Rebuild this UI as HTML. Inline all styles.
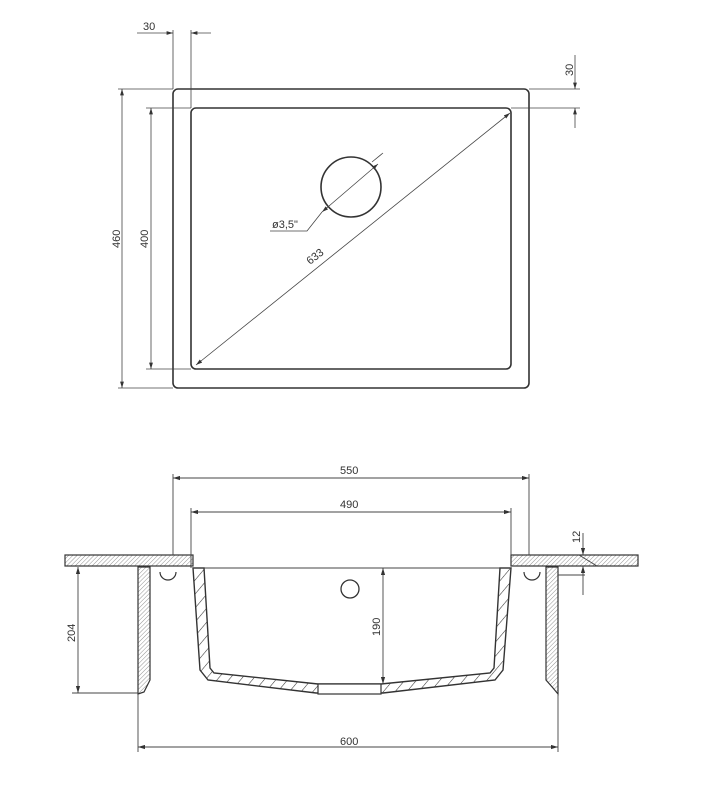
<!DOCTYPE html>
<html><head><meta charset="utf-8"><style>body{margin:0;background:#fff}svg{display:block}text{font-family:"Liberation Sans",sans-serif;font-size:11px;fill:#333}</style></head><body>
<svg width="701" height="812" viewBox="0 0 701 812" xmlns="http://www.w3.org/2000/svg">
<defs>
<pattern id="h" patternUnits="userSpaceOnUse" width="3" height="3" patternTransform="rotate(45)"><line x1="0" y1="0" x2="0" y2="3" stroke="#777" stroke-width="0.8"/></pattern>
<pattern id="s" patternUnits="userSpaceOnUse" width="9" height="9" patternTransform="rotate(40)"><line x1="0" y1="0" x2="0" y2="9" stroke="#333" stroke-width="1.1"/></pattern>
<marker id="a" viewBox="0 0 10 6" refX="10" refY="3" markerWidth="8" markerHeight="5" orient="auto-start-reverse"><path d="M0,0L10,3L0,6z" fill="#333"/></marker>
</defs>
<g fill="none" stroke="#333" stroke-width="1.6">
<rect x="173" y="89" width="356" height="299" rx="5"/>
<rect x="191" y="108" width="320" height="261" rx="5"/>
<circle cx="351" cy="187" r="30"/>
</g>
<g stroke="#444" stroke-width="0.8" fill="none">
<line x1="173" y1="30" x2="173" y2="89"/><line x1="191" y1="30" x2="191" y2="108"/>
<line x1="137" y1="33" x2="173" y2="33" marker-end="url(#a)"/><line x1="211" y1="33" x2="191" y2="33" marker-end="url(#a)"/>
<line x1="529" y1="89" x2="580" y2="89"/><line x1="511" y1="108" x2="580" y2="108"/>
<line x1="575" y1="55" x2="575" y2="89" marker-end="url(#a)"/><line x1="575" y1="128" x2="575" y2="108" marker-end="url(#a)"/>
<line x1="118" y1="89" x2="173" y2="89"/><line x1="118" y1="388" x2="173" y2="388"/>
<line x1="122" y1="89" x2="122" y2="388" marker-start="url(#a)" marker-end="url(#a)"/>
<line x1="146" y1="108" x2="191" y2="108"/><line x1="146" y1="369" x2="191" y2="369"/>
<line x1="151" y1="108" x2="151" y2="369" marker-start="url(#a)" marker-end="url(#a)"/>
<line x1="196" y1="365" x2="510" y2="113" marker-start="url(#a)" marker-end="url(#a)"/>
<line x1="383" y1="153" x2="372" y2="162" /><line x1="322" y1="212" x2="378" y2="164" marker-start="url(#a)" marker-end="url(#a)"/>
<polyline points="322,212 307,231 270,231"/>
</g>
<text x="143" y="30">30</text>
<text transform="translate(573,76) rotate(-90)">30</text>
<text transform="translate(120,248) rotate(-90)">460</text>
<text transform="translate(148,248) rotate(-90)">400</text>
<text x="272" y="228">ø3,5"</text>
<text transform="translate(310,265) rotate(-38)">633</text>

<!-- bottom view -->
<g stroke="#333" stroke-width="1.2">
<rect x="65" y="555" width="128" height="11" fill="url(#h)"/>
<rect x="511" y="555" width="127" height="11" fill="url(#h)"/>
<path d="M138,567H150V680L144,692L138,694Z" fill="url(#h)"/>
<path d="M546,567H558V694L553,688L546,680Z" fill="url(#h)"/>
<path d="M193,568L200,670L208,680L316,693L383,693L495,680L503,670L511,568L500,568L494,668L490,673L381,684L318,684L214,673L210,668L204,568Z" fill="url(#s)" stroke-width="1.4"/>
<rect x="318" y="684" width="63" height="10" fill="#fff"/>
<path d="M160,572a8,8 0 0 0 16,0" fill="none"/>
<path d="M524,572a8,8 0 0 0 16,0" fill="none"/>
</g>
<g stroke="#444" stroke-width="0.9" fill="none">
<line x1="193" y1="568" x2="511" y2="568"/>
<circle cx="350" cy="589" r="9" stroke="#333" stroke-width="1.3"/>
<line x1="173" y1="474" x2="173" y2="555"/><line x1="529" y1="474" x2="529" y2="555"/>
<line x1="173" y1="478" x2="529" y2="478" marker-start="url(#a)" marker-end="url(#a)"/>
<line x1="191" y1="508" x2="191" y2="568"/><line x1="511" y1="508" x2="511" y2="555"/>
<line x1="191" y1="512" x2="511" y2="512" marker-start="url(#a)" marker-end="url(#a)"/>
<line x1="138" y1="694" x2="138" y2="752"/><line x1="558" y1="694" x2="558" y2="752"/>
<line x1="138" y1="747" x2="558" y2="747" marker-start="url(#a)" marker-end="url(#a)"/>
<line x1="72" y1="693" x2="138" y2="693"/>
<line x1="78" y1="567" x2="78" y2="693" marker-start="url(#a)" marker-end="url(#a)"/>
<line x1="383" y1="568" x2="383" y2="684" marker-start="url(#a)" marker-end="url(#a)"/>
<line x1="558" y1="575" x2="585" y2="575"/>
<line x1="583" y1="533" x2="583" y2="555" marker-end="url(#a)"/><line x1="583" y1="595" x2="583" y2="566" marker-end="url(#a)"/>
<line x1="579" y1="555" x2="597" y2="566"/>
</g>
<text x="340" y="474">550</text>
<text x="340" y="508">490</text>
<text x="340" y="745">600</text>
<text transform="translate(75,642) rotate(-90)">204</text>
<text transform="translate(380,636) rotate(-90)">190</text>
<text transform="translate(580,543) rotate(-90)">12</text>
</svg>
</body></html>
